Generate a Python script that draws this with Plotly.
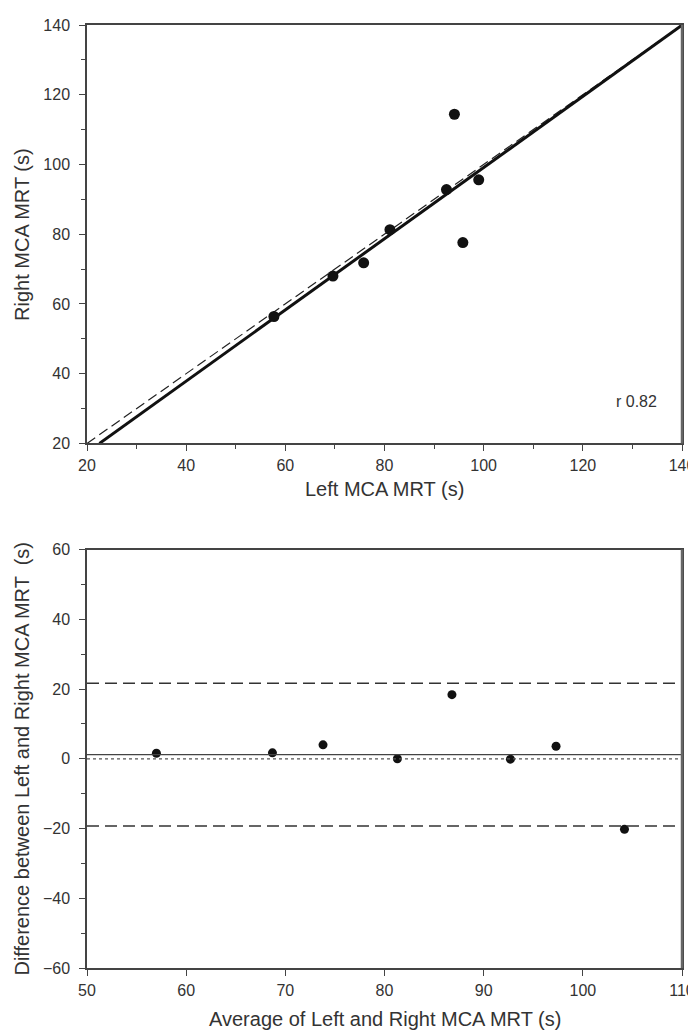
import plotly.graph_objects as go

# ---- data ----
left_mrt = [57.7, 69.6, 75.8, 81.1, 92.5, 94.1, 95.8, 99.0]
right_mrt = [56.4, 68.0, 71.8, 81.3, 92.8, 114.4, 77.6, 95.6]
reg_slope = 1.021
reg_intercept = -2.98
r_label = "r 0.82"

avg_mrt = [57.0, 68.7, 73.8, 81.3, 86.8, 92.7, 97.3, 104.2]
diff_mrt = [1.6, 1.7, 4.0, 0.0, 18.4, -0.1, 3.6, -20.2]
mean_diff = 1.2
upper_loa = 21.7
lower_loa = -19.3

top_range = [20, 140]
bot_x_range = [50, 110]
bot_y_range = [-60, 60]

top_x_title = "Left MCA MRT (s)"
top_y_title = "Right MCA MRT (s)"
bot_x_title = "Average of Left and Right MCA MRT (s)"
bot_y_title = "Difference between Left and Right MCA MRT  (s)"

TXT = "#333333"
AX = "#444444"
FONT = "Liberation Sans, Arial, sans-serif"

fig = go.Figure()

# identity line (dashed)
fig.add_trace(go.Scatter(x=top_range, y=top_range, mode="lines",
                         line=dict(color="#222222", width=1.2, dash="10px,5px"),
                         xaxis="x", yaxis="y", hoverinfo="skip"))
# regression line (thick)
x_start = (top_range[0] - reg_intercept) / reg_slope
x_end = (top_range[1] - reg_intercept) / reg_slope
fig.add_trace(go.Scatter(x=[x_start, x_end],
                         y=[reg_slope * x_start + reg_intercept, reg_slope * x_end + reg_intercept],
                         mode="lines", line=dict(color="#111111", width=3),
                         xaxis="x", yaxis="y", hoverinfo="skip"))
# scatter points
fig.add_trace(go.Scatter(x=left_mrt, y=right_mrt, mode="markers",
                         marker=dict(color="#111111", size=11),
                         xaxis="x", yaxis="y"))

# Bland-Altman points
fig.add_trace(go.Scatter(x=avg_mrt, y=diff_mrt, mode="markers",
                         marker=dict(color="#111111", size=9),
                         xaxis="x2", yaxis="y2"))

top_dom = [0.5563, 1.0]
bot_dom = [0.0, 0.4437]

shapes = [
    dict(type="line", xref="x2", yref="y2", x0=bot_x_range[0], x1=bot_x_range[1],
         y0=upper_loa, y1=upper_loa, line=dict(color="#333333", width=1.5, dash="12px,6px")),
    dict(type="line", xref="x2", yref="y2", x0=bot_x_range[0], x1=bot_x_range[1],
         y0=lower_loa, y1=lower_loa, line=dict(color="#333333", width=1.5, dash="12px,6px")),
    dict(type="line", xref="x2", yref="y2", x0=bot_x_range[0], x1=bot_x_range[1],
         y0=mean_diff, y1=mean_diff, line=dict(color="#444444", width=1.3)),
    dict(type="line", xref="x2", yref="y2", x0=bot_x_range[0], x1=bot_x_range[1],
         y0=0, y1=0, line=dict(color="#555555", width=1.2, dash="dot")),
    # heavier grey right frame edges, as in the reference
    dict(type="line", xref="paper", yref="paper", x0=1, x1=1, y0=top_dom[0], y1=top_dom[1],
         line=dict(color="#666666", width=2.5)),
    dict(type="line", xref="paper", yref="paper", x0=1, x1=1, y0=bot_dom[0], y1=bot_dom[1],
         line=dict(color="#666666", width=2.5)),
]

def axis(rng, dtick, minor_dtick, domain, anchor, standoff):
    d = dict(range=rng, domain=domain, anchor=anchor, dtick=dtick, tick0=rng[0],
             showgrid=False, zeroline=False, showline=True, linecolor=AX, linewidth=1.5,
             mirror=True, ticks="outside", ticklen=6, tickwidth=1.2, tickcolor=AX,
             ticklabelstandoff=standoff,
             tickfont=dict(family=FONT, size=16, color=TXT))
    if minor_dtick:
        d["minor"] = dict(dtick=minor_dtick, tick0=rng[0], ticks="outside", ticklen=4,
                          tickwidth=1.2, tickcolor=AX, showgrid=False)
    return d

TFONT = dict(family=FONT, size=20, color=TXT)
# paper coords: plot area spans pixels x 79..681, y 9..960
def px_y(py):
    return (960 - py) / 951.0

def px_x(px):
    return (px - 79) / 602.0

annotations = [
    dict(x=130.8, y=32, xref="x", yref="y", text=r_label, showarrow=False,
         font=dict(family=FONT, size=16, color=TXT)),
    dict(x=0.5, y=px_y(477), xref="paper", yref="paper", text=top_x_title, showarrow=False,
         font=TFONT, xanchor="center", yanchor="middle"),
    dict(x=0.5, y=px_y(1011), xref="paper", yref="paper", text=bot_x_title, showarrow=False,
         font=TFONT, xanchor="center", yanchor="middle"),
    dict(x=px_x(13), y=sum(top_dom) / 2, xref="paper", yref="paper", text=top_y_title,
         showarrow=False, font=TFONT, textangle=-90, xanchor="center", yanchor="middle"),
    dict(x=px_x(13), y=sum(bot_dom) / 2, xref="paper", yref="paper", text=bot_y_title,
         showarrow=False, font=TFONT, textangle=-90, xanchor="center", yanchor="middle"),
]

fig.update_layout(
    width=696, height=1032,
    margin=dict(l=79, r=15, t=9, b=72),
    paper_bgcolor="white", plot_bgcolor="white",
    showlegend=False,
    shapes=shapes,
    xaxis=axis(top_range, 20, 10, [0, 1], "y", 1),
    yaxis=axis(top_range, 20, 10, top_dom, "x", 6),
    xaxis2=axis(bot_x_range, 10, None, [0, 1], "y2", 1),
    yaxis2=axis(bot_y_range, 20, 10, bot_dom, "x2", 6),
    annotations=annotations,
)

fig.write_html("out.html")
